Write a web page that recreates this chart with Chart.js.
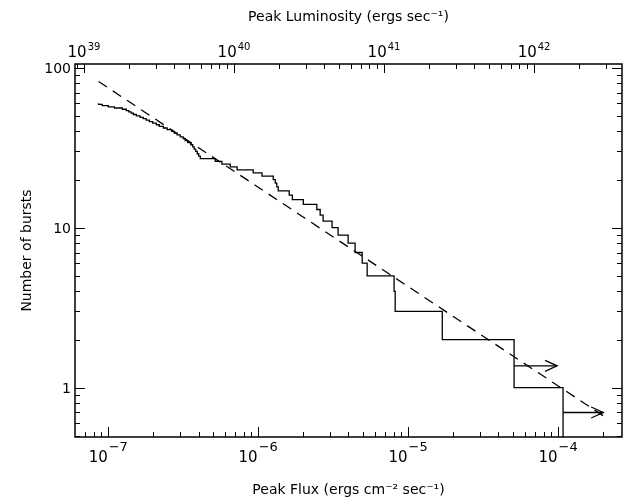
<!DOCTYPE html>
<html><head><meta charset="utf-8">
<script src="https://cdn.jsdelivr.net/npm/chart.js@4"></script>
<style>html,body{margin:0;padding:0;background:#fff;}</style>
</head><body>
<canvas id="c" width="633" height="502"></canvas>
<script>
// Peak flux of each burst (ergs cm^-2 s^-1), brightest first
const burstFlux = [1.08e-4, 5.09e-5, 1.69e-5, 8.2e-6, 8.06e-6, 5.33e-6, 4.94e-6, 4.43e-6, 3.98e-6, 3.41e-6,
  3.11e-6, 2.71e-6, 2.59e-6, 2.46e-6, 2.0e-6, 1.69e-6, 1.61e-6, 1.36e-6, 1.33e-6, 1.30e-6,
  1.26e-6, 1.06e-6, 9.26e-7, 7.24e-7, 6.51e-7, 5.73e-7, 5.17e-7, 4.11e-7, 4.01e-7, 3.92e-7,
  3.83e-7, 3.74e-7, 3.66e-7, 3.55e-7, 3.39e-7, 3.26e-7, 3.16e-7, 3.02e-7, 2.88e-7, 2.75e-7,
  2.65e-7, 2.47e-7, 2.33e-7, 2.19e-7, 2.09e-7, 1.98e-7, 1.88e-7, 1.79e-7, 1.71e-7, 1.63e-7,
  1.54e-7, 1.47e-7, 1.42e-7, 1.37e-7, 1.32e-7, 1.24e-7, 1.10e-7, 1.00e-7, 9.12e-8, 8.62e-8];
// Cumulative number of bursts at or above each flux
const burstCount = [1, 2, 3, 4, 5, 6, 7, 8, 9, 10, 11, 12, 13, 14, 15, 16, 17, 18, 19, 20,
  21, 22, 23, 24, 25, 26, 27, 28, 29, 30, 31, 32, 33, 34, 35, 36, 37, 38, 39, 40,
  41, 42, 43, 44, 45, 46, 47, 48, 49, 50, 51, 52, 53, 54, 55, 56, 57, 58, 59, 60];
// Power-law fit (dashed)
const fitFlux = [8.62e-8, 2.0e-4];
const fitCount = [82.0, 0.668];
// Lower-limit arrows
const arrowFromFlux = [5.09e-5, 1.08e-4];
const arrowToFlux = [9.85e-5, 2.0e-4];
const arrowCount = [1.37, 0.70];
// Axis ranges and ticks
const fluxRange = [6.03e-8, 2.67e-4];
const countRange = [0.492, 105.5];
const lumPerFlux = 1.445e46;
const fluxTickExp = [-7, -6, -5, -4];
const lumTickExp = [39, 40, 41, 42];
const countTicks = [1, 10, 100];

const FONT = "'DejaVu Sans', sans-serif";

const stairs = [];
for (let i = burstFlux.length - 1; i >= 0; i--) stairs.push({x: burstFlux[i], y: burstCount[i]});
stairs.push({x: burstFlux[0], y: countRange[0]});

const datasets = [
  {data: stairs, stepped: 'after', borderColor: '#000', borderWidth: 1.3, pointRadius: 0, fill: false},
  {data: fitFlux.map((f, i) => ({x: f, y: fitCount[i]})), borderColor: '#000', borderWidth: 1.3,
   borderDash: [10, 7], pointRadius: 0, fill: false}
];
for (let i = 0; i < arrowCount.length; i++) {
  datasets.push({data: [{x: arrowFromFlux[i], y: arrowCount[i]}, {x: arrowToFlux[i], y: arrowCount[i]}],
    borderColor: '#000', borderWidth: 1.3, pointRadius: 0, fill: false});
}

function logValues(min, max) {
  const out = [];
  for (let e = Math.floor(Math.log10(min)); e <= Math.ceil(Math.log10(max)); e++) {
    for (let m = 1; m <= 9; m++) {
      const v = m * Math.pow(10, e);
      if (v >= min * 0.999 && v <= max * 1.001) out.push({v, major: m === 1});
    }
  }
  return out;
}

const decor = {
  id: 'decor',
  afterDatasetsDraw(chart) {
    const ctx = chart.ctx;
    const {left, right, top, bottom} = chart.chartArea;
    const sx = chart.scales.x, st = chart.scales.xTop, sy = chart.scales.y;
    ctx.save();
    ctx.strokeStyle = '#000';
    ctx.fillStyle = '#000';
    // arrowheads
    ctx.lineWidth = 1.3;
    for (let i = 0; i < arrowCount.length; i++) {
      const tx = sx.getPixelForValue(arrowToFlux[i]);
      const ty = sy.getPixelForValue(arrowCount[i]);
      ctx.beginPath();
      ctx.moveTo(tx - 12, ty - 5.5); ctx.lineTo(tx, ty); ctx.lineTo(tx - 12, ty + 5.5);
      ctx.stroke();
    }
    // frame
    ctx.lineWidth = 1.5;
    ctx.strokeRect(left, top, right - left, bottom - top);
    // ticks
    ctx.lineWidth = 1;
    ctx.beginPath();
    for (const t of logValues(fluxRange[0], fluxRange[1])) {
      const p = Math.round(sx.getPixelForValue(t.v)) + 0.5;
      const L = t.major ? 10 : 5;
      ctx.moveTo(p, bottom); ctx.lineTo(p, bottom - L);
    }
    for (const t of logValues(st.min, st.max)) {
      const p = Math.round(st.getPixelForValue(t.v)) + 0.5;
      const L = t.major ? 9 : 5;
      ctx.moveTo(p, top); ctx.lineTo(p, top + L);
    }
    for (const t of logValues(countRange[0], countRange[1])) {
      const p = Math.round(sy.getPixelForValue(t.v)) + 0.5;
      const L = t.major ? 10 : 5;
      ctx.moveTo(left, p); ctx.lineTo(left + L, p);
      ctx.moveTo(right, p); ctx.lineTo(right - L, p);
    }
    ctx.stroke();
    // bottom tick labels
    ctx.textBaseline = 'alphabetic';
    ctx.textAlign = 'left';
    for (const e of fluxTickExp) {
      const p = sx.getPixelForValue(Math.pow(10, e));
      ctx.font = '15px ' + FONT; const wb = ctx.measureText('10').width;
      const es = '\u2212' + Math.abs(e);
      ctx.font = '13px ' + FONT; const we = ctx.measureText(es).width;
      const x0 = p - (wb + we + 1) / 2;
      ctx.font = '15px ' + FONT; ctx.fillText('10', x0, 462);
      ctx.font = '13px ' + FONT; ctx.fillText(es, x0 + wb + 1, 451);
    }
    // top tick labels
    for (const e of lumTickExp) {
      const p = st.getPixelForValue(Math.pow(10, e));
      ctx.font = '15px ' + FONT; const wb = ctx.measureText('10').width;
      const es = String(e);
      ctx.font = '10px ' + FONT; const we = ctx.measureText(es).width;
      const x0 = p - (wb + we + 1) / 2;
      ctx.font = '15px ' + FONT; ctx.fillText('10', x0, 57);
      ctx.font = '10px ' + FONT; ctx.fillText(es, x0 + wb + 1, 50);
    }
    // left tick labels
    ctx.textAlign = 'right';
    ctx.textBaseline = 'middle';
    ctx.font = '14px ' + FONT;
    for (const v of countTicks) {
      ctx.fillText(String(v), left - 4, sy.getPixelForValue(v) + 2);
    }
    ctx.restore();
  }
};

const hidden = {grid: {display: false}, border: {display: false}, ticks: {display: false}};
new Chart(document.getElementById('c'), {
  type: 'line',
  data: {datasets},
  options: {
    responsive: false, animation: false, devicePixelRatio: 1,
    layout: {padding: 0},
    plugins: {legend: {display: false}, tooltip: {enabled: false}},
    scales: {
      x: Object.assign({type: 'logarithmic', axis: 'x', position: 'bottom', min: fluxRange[0], max: fluxRange[1],
        title: {display: true, text: 'Peak Flux (ergs cm\u207B\u00B2 sec\u207B\u00B9)', color: '#000',
          font: {family: FONT, size: 14}, padding: {top: 0, bottom: 3}},
        afterFit: s => { s.height = 65; }}, hidden),
      xTop: Object.assign({type: 'logarithmic', axis: 'x', position: 'top',
        min: fluxRange[0] * lumPerFlux, max: fluxRange[1] * lumPerFlux,
        title: {display: true, text: 'Peak Luminosity (ergs sec\u207B\u00B9)', color: '#000',
          font: {family: FONT, size: 14}, padding: {top: 9, bottom: 0}},
        afterFit: s => { s.height = 64; }}, hidden),
      y: Object.assign({type: 'logarithmic', axis: 'y', position: 'left', min: countRange[0], max: countRange[1],
        title: {display: true, text: 'Number of bursts', color: '#000',
          font: {family: FONT, size: 14}, padding: {top: 19, bottom: 0}},
        afterFit: s => { s.width = 75; }}, hidden),
      yRight: Object.assign({type: 'logarithmic', axis: 'y', position: 'right', min: countRange[0], max: countRange[1],
        afterFit: s => { s.width = 11; }}, hidden)
    }
  },
  plugins: [decor]
});
</script>
</body></html>
